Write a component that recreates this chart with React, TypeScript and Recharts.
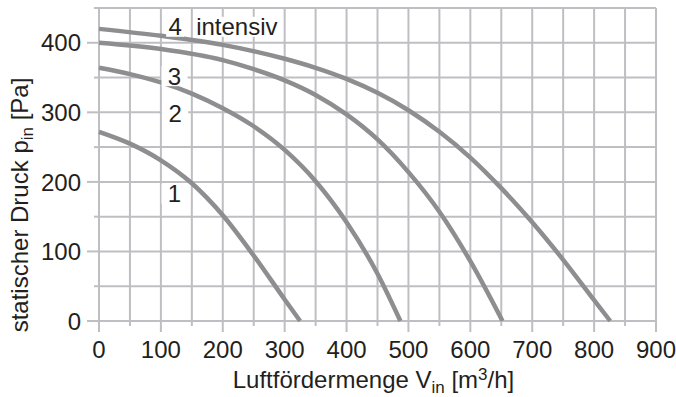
import React from 'react';
import { LineChart, Line, XAxis, YAxis, CartesianGrid, ReferenceDot } from 'recharts';

const xTicks = [0, 50, 100, 150, 200, 250, 300, 350, 400, 450, 500, 550, 600, 650, 700, 750, 800, 850, 900];
const yTicks = [0, 50, 100, 150, 200, 250, 300, 350, 400, 450];

const flow1 = [0, 50, 100, 150, 200, 250, 300, 325];
const press1 = [272, 255, 231, 198, 152, 94, 31, 0];
const flow2 = [0, 50, 100, 150, 200, 250, 300, 350, 400, 450, 487];
const press2 = [364, 355, 343, 327, 306, 280, 246, 201, 142, 68, 0];
const flow3 = [0, 100, 200, 250, 300, 350, 400, 450, 500, 550, 600, 652];
const press3 = [400, 391, 375, 362, 346, 325, 297, 261, 214, 157, 86, 0];
const flow4 = [0, 100, 200, 300, 350, 400, 450, 500, 550, 600, 650, 700, 750, 800, 826];
const press4 = [420, 410, 397, 377, 364, 348, 328, 303, 272, 235, 191, 142, 88, 30, 0];

const labelTexts = ['1', '2', '3', '4'];
const labelFlow = [122, 123, 122, 123];
const labelPress = [183, 298, 352, 423];
const extraLabel = 'intensiv';
const extraFlow = 157;
const extraPress = 423;

const toData = (f: number[], p: number[]) => f.map((v, i) => ({ v, p: p[i] }));
const series = [toData(flow1, press1), toData(flow2, press2), toData(flow3, press3), toData(flow4, press4)];

const FONT = '"Liberation Sans", Arial, Helvetica, sans-serif';
const TEXT = '#231f20';
const GRID = '#bfbfc3';
const CURVE = '#8e8e90';
const FS = 24;
const SUB = 17;

const XTick = (props: any) => {
  const { x, y, payload } = props;
  const major = payload.value % 100 === 0;
  return (
    <g>
      <line x1={x} y1={y} x2={x} y2={y + (major ? 11 : 5)} stroke={GRID} strokeWidth={2} />
      {major && (
        <text x={x} y={y + 37} textAnchor="middle" fontSize={FS} fontFamily={FONT} fill={TEXT}>
          {payload.value}
        </text>
      )}
    </g>
  );
};

const YTick = (props: any) => {
  const { x, y, payload } = props;
  const major = payload.value % 100 === 0;
  return (
    <g>
      <line x1={x - (major ? 12 : 5)} y1={y} x2={x} y2={y} stroke={GRID} strokeWidth={2} />
      {major && (
        <text x={x - 18} y={y} dy="0.36em" textAnchor="end" fontSize={FS} fontFamily={FONT} fill={TEXT}>
          {payload.value}
        </text>
      )}
    </g>
  );
};

const XTitle = (props: any) => {
  const vb = props.viewBox;
  const cx = vb.x + vb.width / 2 - 4;
  return (
    <text x={cx} y={388} textAnchor="middle" fontSize={FS} fontFamily={FONT} fill={TEXT}>
      <tspan>Luftfördermenge V</tspan>
      <tspan fontSize={SUB} dy={5}>in</tspan>
      <tspan dy={-5}> [m</tspan>
      <tspan fontSize={SUB} dy={-8}>3</tspan>
      <tspan dy={8}>/h]</tspan>
    </text>
  );
};

const YTitle = () => {
  const cy = 205;
  const cx = 28;
  return (
    <text x={cx} y={cy} transform={`rotate(-90 ${cx} ${cy})`} textAnchor="middle" fontSize={FS} fontFamily={FONT} fill={TEXT}>
      <tspan>statischer Druck p</tspan>
      <tspan fontSize={SUB} dy={5}>in</tspan>
      <tspan dy={-5}> [Pa]</tspan>
    </text>
  );
};

const makeLabel = (text: string, anchor: 'middle' | 'start', boxW: number) => (props: any) => {
  const { x, y } = props.viewBox;
  const left = anchor === 'middle' ? x - boxW / 2 : x - 3;
  return (
    <g>
      <rect x={left} y={y - 10} width={boxW} height={20} fill="#ffffff" />
      <text x={x} y={y} dy="0.36em" textAnchor={anchor} fontSize={FS} fontFamily={FONT} fill={TEXT}>
        {text}
      </text>
    </g>
  );
};

export default function App() {
  return (
    <div style={{ position: 'absolute', left: 0, top: 0, background: '#fff' }}>
      <LineChart width={676} height={397} margin={{ top: 8, right: 20, bottom: 0, left: 0 }}>
        <CartesianGrid stroke={GRID} strokeWidth={2} />
        <XAxis
          type="number"
          dataKey="v"
          domain={[0, 900]}
          ticks={xTicks}
          interval={0}
          height={76}
          tickSize={0}
          tickMargin={0}
          axisLine={false}
          tickLine={false}
          tick={<XTick />}
          label={{ content: <XTitle /> }}
        />
        <YAxis
          type="number"
          dataKey="p"
          domain={[0, 450]}
          ticks={yTicks}
          interval={0}
          width={99}
          tickSize={0}
          tickMargin={0}
          axisLine={false}
          tickLine={false}
          tick={<YTick />}
          label={{ content: <YTitle /> }}
        />
        {series.map((d, i) => (
          <Line
            key={i}
            data={d}
            dataKey="p"
            type="monotone"
            stroke={CURVE}
            strokeWidth={4.5}
            dot={false}
            activeDot={false}
            isAnimationActive={false}
          />
        ))}
        {labelTexts.map((t, i) => (
          <ReferenceDot
            key={t}
            x={labelFlow[i]}
            y={labelPress[i]}
            r={0}
            fill="none"
            stroke="none"
            ifOverflow="visible"
            label={makeLabel(t, 'middle', i === 3 ? 18 : 26)}
          />
        ))}
        <ReferenceDot
          x={extraFlow}
          y={extraPress}
          r={0}
          fill="none"
          stroke="none"
          ifOverflow="visible"
          label={makeLabel(extraLabel, 'start', 90)}
        />
      </LineChart>
    </div>
  );
}
